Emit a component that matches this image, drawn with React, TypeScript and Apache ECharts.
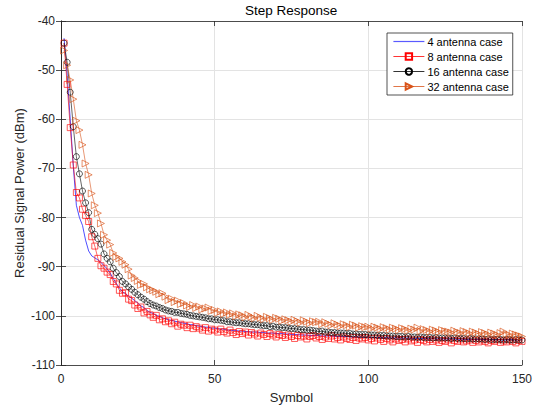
import React, { useEffect, useRef } from "react";
import * as echarts from "echarts";

const seriesNames = ["4 antenna case", "8 antenna case", "16 antenna case", "32 antenna case"];
const xTicks = [0, 50, 100, 150];
const yTicks = [-110, -100, -90, -80, -70, -60, -50, -40];
const yAxisTitle = "Residual Signal Power (dBm)";

const symbols: number[] = Array.from({ length: 150 }, (_, i) => i + 1);

const ant4 = [
  -43.5, -51.0, -60.0, -69.5, -77.5, -80.0, -81.6, -84.6, -86.8, -87.8,
  -88.2, -88.6, -89.1, -89.8, -90.4, -91.3, -92.4, -93.4, -94.3, -95.1,
  -95.5, -96.0, -96.4, -96.9, -97.4, -98.0, -98.3, -98.9, -99.3, -99.5,
  -99.9, -100.1, -100.4, -100.6, -100.8, -100.9, -101.1, -101.2, -101.4, -101.5,
  -101.6, -101.8, -101.8, -102.0, -102.1, -102.2, -102.3, -102.3, -102.5, -102.5,
  -102.6, -102.7, -102.7, -102.9, -102.9, -103.0, -103.0, -103.1, -103.1, -103.2,
  -103.2, -103.3, -103.3, -103.3, -103.4, -103.4, -103.5, -103.5, -103.5, -103.6,
  -103.6, -103.6, -103.7, -103.7, -103.8, -103.8, -103.8, -103.9, -103.9, -103.9,
  -104.0, -104.0, -104.0, -104.0, -104.1, -104.1, -104.1, -104.1, -104.2, -104.2,
  -104.2, -104.2, -104.2, -104.3, -104.3, -104.3, -104.3, -104.3, -104.4, -104.3,
  -104.4, -104.4, -104.4, -104.4, -104.5, -104.4, -104.5, -104.5, -104.5, -104.5,
  -104.5, -104.6, -104.5, -104.6, -104.6, -104.6, -104.6, -104.6, -104.6, -104.7,
  -104.6, -104.7, -104.7, -104.7, -104.7, -104.7, -104.7, -104.7, -104.8, -104.7,
  -104.8, -104.8, -104.8, -104.8, -104.8, -104.8, -104.8, -104.8, -104.9, -104.8,
  -104.9, -104.8, -104.9, -104.9, -104.9, -104.8, -104.9, -104.9, -104.9, -104.8,
];

const ant8 = [
  -44.5, -52.9, -61.7, -69.3, -74.9, -76.0, -78.3, -79.6, -80.8, -83.9,
  -85.8, -88.3, -89.8, -90.3, -91.1, -91.6, -93.0, -93.5, -94.8, -95.4,
  -95.3, -96.6, -96.9, -97.8, -98.5, -98.2, -99.4, -99.1, -99.8, -100.3,
  -99.9, -100.8, -100.6, -101.2, -101.0, -101.6, -101.3, -102.1, -101.7, -101.9,
  -102.4, -101.9, -102.6, -102.2, -102.5, -102.9, -102.4, -103.1, -102.7, -102.9,
  -103.3, -102.7, -103.2, -103.5, -102.9, -103.4, -103.8, -103.2, -103.6, -103.3,
  -103.9, -103.4, -103.7, -104.1, -103.5, -103.8, -104.2, -103.6, -103.9, -104.3,
  -103.8, -104.0, -104.4, -103.9, -104.2, -104.6, -104.0, -104.3, -104.1, -104.7,
  -104.2, -104.0, -104.5, -104.2, -104.8, -104.3, -104.6, -104.1, -104.7, -104.4,
  -104.9, -104.3, -104.6, -104.8, -104.4, -105.0, -104.5, -104.7, -104.4, -104.9,
  -104.6, -105.1, -104.5, -104.8, -105.2, -104.6, -104.9, -105.3, -104.7, -105.0,
  -104.8, -105.3, -104.7, -105.1, -104.9, -105.4, -104.8, -105.0, -105.3, -104.8,
  -105.2, -104.9, -105.4, -105.0, -105.2, -104.9, -105.5, -105.0, -105.2, -104.9,
  -105.3, -105.1, -104.9, -105.4, -105.0, -105.3, -104.9, -105.2, -105.5, -105.0,
  -105.2, -104.9, -105.4, -105.1, -105.3, -104.9, -105.2, -105.5, -105.0, -105.2,
];

const ant16 = [
  -44.5, -48.4, -54.5, -61.5, -67.6, -71.1, -74.6, -77.0, -79.0, -82.4,
  -83.4, -84.3, -85.4, -87.4, -88.3, -89.0, -90.3, -91.2, -92.0, -93.0,
  -93.5, -94.1, -94.6, -95.2, -95.7, -96.2, -96.6, -97.1, -97.5, -97.8,
  -98.0, -98.3, -98.5, -98.8, -99.0, -99.1, -99.3, -99.3, -99.5, -99.6,
  -99.7, -99.9, -100.0, -100.1, -100.2, -100.3, -100.4, -100.6, -100.6, -100.8,
  -100.8, -100.9, -101.0, -101.2, -101.2, -101.3, -101.4, -101.4, -101.5, -101.6,
  -101.6, -101.7, -101.8, -101.8, -101.9, -102.0, -102.0, -102.2, -102.1, -102.3,
  -102.3, -102.4, -102.4, -102.5, -102.6, -102.6, -102.7, -102.8, -102.8, -102.9,
  -102.9, -103.0, -103.1, -103.2, -103.1, -103.3, -103.3, -103.4, -103.4, -103.5,
  -103.5, -103.5, -103.6, -103.6, -103.7, -103.7, -103.8, -103.8, -103.8, -103.9,
  -103.9, -103.9, -104.0, -104.0, -104.0, -104.1, -104.1, -104.1, -104.2, -104.2,
  -104.2, -104.3, -104.2, -104.3, -104.3, -104.4, -104.3, -104.4, -104.4, -104.4,
  -104.5, -104.4, -104.5, -104.5, -104.5, -104.5, -104.6, -104.5, -104.6, -104.6,
  -104.6, -104.7, -104.6, -104.7, -104.7, -104.7, -104.7, -104.8, -104.7, -104.8,
  -104.8, -104.8, -104.8, -104.9, -104.8, -104.9, -104.9, -104.8, -104.9, -104.9,
];

const ant32 = [
  -46.0, -49.0, -52.0, -55.9, -60.3, -62.2, -65.2, -69.0, -71.3, -75.1,
  -77.5, -79.1, -81.2, -83.5, -84.6, -85.5, -87.2, -88.0, -88.3, -89.0,
  -89.6, -90.5, -91.8, -92.3, -92.9, -93.7, -93.5, -94.2, -94.6, -94.8,
  -95.1, -95.6, -95.4, -96.1, -96.8, -96.5, -97.2, -96.9, -97.6, -97.4,
  -97.9, -98.2, -97.8, -98.4, -98.1, -98.7, -98.5, -98.3, -99.0, -98.8,
  -99.4, -99.1, -99.6, -99.3, -99.8, -99.5, -100.1, -99.7, -99.9, -100.3,
  -99.8, -100.2, -100.5, -100.0, -100.4, -100.7, -100.2, -100.5, -100.8, -100.4,
  -100.6, -101.0, -100.7, -100.9, -101.2, -100.8, -101.1, -101.4, -100.9, -101.2,
  -101.5, -101.1, -101.3, -101.2, -101.7, -101.3, -101.6, -101.9, -101.5, -101.8,
  -102.1, -101.7, -101.9, -102.3, -101.8, -102.0, -102.4, -102.1, -102.3, -102.2,
  -102.6, -102.2, -102.4, -102.7, -102.3, -102.5, -102.8, -102.4, -102.6, -102.9,
  -102.5, -102.7, -103.0, -102.6, -102.8, -102.4, -103.1, -102.7, -102.9, -103.2,
  -102.8, -103.0, -103.3, -102.9, -103.1, -103.2, -103.4, -103.0, -103.3, -103.5,
  -103.1, -103.3, -103.6, -103.2, -103.4, -103.7, -103.3, -103.5, -103.8, -103.4,
  -103.6, -103.9, -103.5, -103.2, -103.7, -103.9, -103.6, -103.8, -104.0, -104.2,
];

const colors = ["#0000ff", "#ff0000", "#000000", "#d95319"];
const FONT = "'Liberation Sans', Arial, Helvetica, sans-serif";
const AXIS = "#262626";

function pairs(ys: number[]) {
  return symbols.map((x, i) => [x, ys[i]]);
}

export default function App() {
  const ref = useRef<HTMLDivElement>(null);
  useEffect(() => {
    if (!ref.current) return;
    const chart = echarts.init(ref.current, undefined, { renderer: "svg" });
    const markerStyle = (c: string) => ({ color: "transparent", borderColor: c, borderWidth: 0.65 });
    const axisCommon = {
      type: "value" as const,
      axisLine: { show: true, lineStyle: { color: AXIS, width: 0.8 } },
      axisTick: { show: true, inside: true, length: 5, lineStyle: { color: AXIS, width: 0.8 } },
    };
    chart.setOption({
      animation: false,
      backgroundColor: "#ffffff",
      textStyle: { fontFamily: FONT },
      title: {
        text: "Step Response",
        left: 245,
        top: 3,
        padding: 0,
        textStyle: { fontFamily: FONT, fontSize: 13.5, fontWeight: "normal", color: "#000000" },
      },
      graphic: [
        {
          type: "text",
          x: 19.5,
          y: 193,
          rotation: Math.PI / 2,
          silent: true,
          style: {
            text: yAxisTitle,
            fontFamily: FONT,
            fontSize: 13,
            fill: AXIS,
            textAlign: "center",
            textVerticalAlign: "middle",
          },
        },
      ],
      grid: { left: 61, right: 19, top: 21, bottom: 44, containLabel: false },
      legend: {
        orient: "vertical",
        left: 387,
        top: 33,
        padding: [3, 4, 3, 6],
        itemGap: 4,
        itemWidth: 31,
        itemHeight: 8,
        borderColor: AXIS,
        borderWidth: 0.8,
        borderRadius: 0,
        backgroundColor: "#ffffff",
        lineStyle: { width: 0.8 },
        textStyle: { fontFamily: FONT, fontSize: 11, color: "#000000", padding: [0, 0, 0, -2] },
        data: [
          {
            name: seriesNames[0],
            icon: "path://M0,0L31,0L31,1.2L0,1.2Z",
            itemStyle: { color: "#5a5aff", borderWidth: 0 },
          },
          { name: seriesNames[1] },
          { name: seriesNames[2] },
          { name: seriesNames[3] },
        ],
      },
      xAxis: [
        {
          ...axisCommon,
          min: 0,
          max: 150,
          interval: 50,
          name: "Symbol",
          nameLocation: "middle",
          nameGap: 26,
          nameTextStyle: { fontFamily: FONT, fontSize: 13, color: AXIS },
          axisLabel: {
            fontFamily: FONT,
            fontSize: 12,
            color: AXIS,
            margin: 8,
            formatter: (v: number) => (xTicks.includes(v) ? String(v) : ""),
          },
          splitLine: { show: true, lineStyle: { color: "#e3e3e3", width: 1 } },
        },
        {
          ...axisCommon,
          position: "top",
          min: 0,
          max: 150,
          interval: 50,
          axisLabel: { show: false },
          splitLine: { show: false },
        },
      ],
      yAxis: [
        {
          ...axisCommon,
          min: -110,
          max: -40,
          interval: 10,
          axisLabel: {
            fontFamily: FONT,
            fontSize: 12,
            color: AXIS,
            margin: 6,
            formatter: (v: number) => (yTicks.includes(v) ? String(v) : ""),
          },
          splitLine: { show: true, lineStyle: { color: "#e3e3e3", width: 1 } },
        },
        {
          ...axisCommon,
          position: "right",
          min: -110,
          max: -40,
          interval: 10,
          axisLabel: { show: false },
          splitLine: { show: false },
        },
      ],
      series: [
        {
          name: seriesNames[0],
          type: "line",
          data: pairs(ant4),
          symbol: "none",
          lineStyle: { color: colors[0], width: 0.7 },
          itemStyle: { color: colors[0] },
        },
        {
          name: seriesNames[1],
          type: "line",
          data: pairs(ant8),
          symbol: "rect",
          symbolSize: 6,
          lineStyle: { color: colors[1], width: 0.6 },
          itemStyle: markerStyle(colors[1]),
        },
        {
          name: seriesNames[2],
          type: "line",
          data: pairs(ant16),
          symbol: "circle",
          symbolSize: 6,
          lineStyle: { color: colors[2], width: 0.6 },
          itemStyle: markerStyle(colors[2]),
        },
        {
          name: seriesNames[3],
          type: "line",
          data: pairs(ant32),
          symbol: "triangle",
          symbolRotate: -90,
          symbolSize: 7,
          lineStyle: { color: colors[3], width: 0.6 },
          itemStyle: markerStyle(colors[3]),
        },
      ],
    });
    return () => chart.dispose();
  }, []);
  return (
    <div
      ref={ref}
      style={{ position: "fixed", left: 0, top: 0, width: 541, height: 409, background: "#fff" }}
    />
  );
}
